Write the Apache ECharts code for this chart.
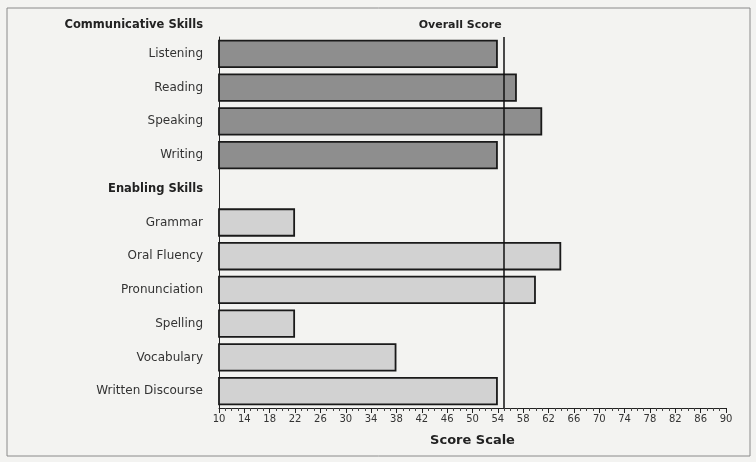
<!DOCTYPE html>
<html>
<head>
<meta charset="utf-8">
<script src="https://cdn.jsdelivr.net/npm/echarts@6/dist/echarts.min.js"></script>
<style>
  html, body { margin: 0; padding: 0; background: #f3f3f1; }
  #chart { width: 756px; height: 462px; }
</style>
</head>
<body>
<div id="chart"></div>
<script>
// skills, top to bottom
var skills = ['Listening', 'Reading', 'Speaking', 'Writing', 'Enabling Skills',
              'Grammar', 'Oral Fluency', 'Pronunciation', 'Spelling', 'Vocabulary', 'Written Discourse'];
var scores = [54, 57, 61, 54, null, 22, 64, 60, 22, 38, 54];
var groups = ['comm', 'comm', 'comm', 'comm', 'head', 'enab', 'enab', 'enab', 'enab', 'enab', 'enab'];
var overallScore = 55;
var scaleMin = 10, scaleMax = 90, scaleStep = 4;

var fillColors = { comm: '#8e8e8e', enab: '#d2d2d2' };
var font = 'DejaVu Sans';

var chart = echarts.init(document.getElementById('chart'));

var option = {
  backgroundColor: '#f3f3f1',
  textStyle: { fontFamily: font },
  graphic: [
    {
      type: 'rect',
      shape: { x: 7, y: 8, width: 743, height: 448 },
      style: { fill: 'none', stroke: '#8a8a8a', lineWidth: 1 }
    },
    {
      type: 'text',
      x: 203, y: 25,
      style: {
        text: 'Communicative Skills', textAlign: 'right', textVerticalAlign: 'middle',
        font: 'bold 11.5px "DejaVu Sans"', fill: '#222'
      }
    }
  ],
  grid: { left: 219, right: 30, top: 37, bottom: 54 },
  xAxis: {
    type: 'value',
    min: scaleMin,
    max: scaleMax,
    interval: scaleStep,
    name: 'Score Scale',
    nameLocation: 'middle',
    nameGap: 26,
    nameTextStyle: { fontWeight: 'bold', fontSize: 13, color: '#222', fontFamily: font },
    axisLine: { show: true, lineStyle: { color: '#222', width: 1 } },
    axisTick: { show: true, length: 5, lineStyle: { color: '#222' } },
    minorTick: { show: true, splitNumber: 4, length: 3, lineStyle: { color: '#444' } },
    axisLabel: { fontSize: 10, color: '#333', margin: 6 },
    splitLine: { show: false }
  },
  yAxis: {
    type: 'category',
    inverse: true,
    data: skills.map(function (s, i) {
      return groups[i] === 'head'
        ? { value: s, textStyle: { fontWeight: 'bold', fontSize: 11.5, color: '#222' } }
        : s;
    }),
    axisLine: { show: true, lineStyle: { color: '#222', width: 1 } },
    axisTick: { show: false },
    axisLabel: { fontSize: 12, color: '#333', margin: 16 }
  },
  series: [{
    type: 'bar',
    barCategoryGap: '16%',
    data: scores.map(function (v, i) {
      return {
        value: v,
        itemStyle: { color: fillColors[groups[i]] || '#ccc', borderColor: '#1a1a1a', borderWidth: 1.8 }
      };
    }),
    markLine: {
      silent: true,
      symbol: 'none',
      lineStyle: { color: '#111', width: 1.5, type: 'solid' },
      label: {
        show: true,
        position: 'start',
        formatter: 'Overall Score',
        fontWeight: 'bold',
        fontSize: 11,
        color: '#222',
        padding: [0, 88, 0, 0],
        distance: 6
      },
      data: [{ xAxis: overallScore }]
    }
  }]
};

chart.setOption(option);
</script>
</body>
</html>
